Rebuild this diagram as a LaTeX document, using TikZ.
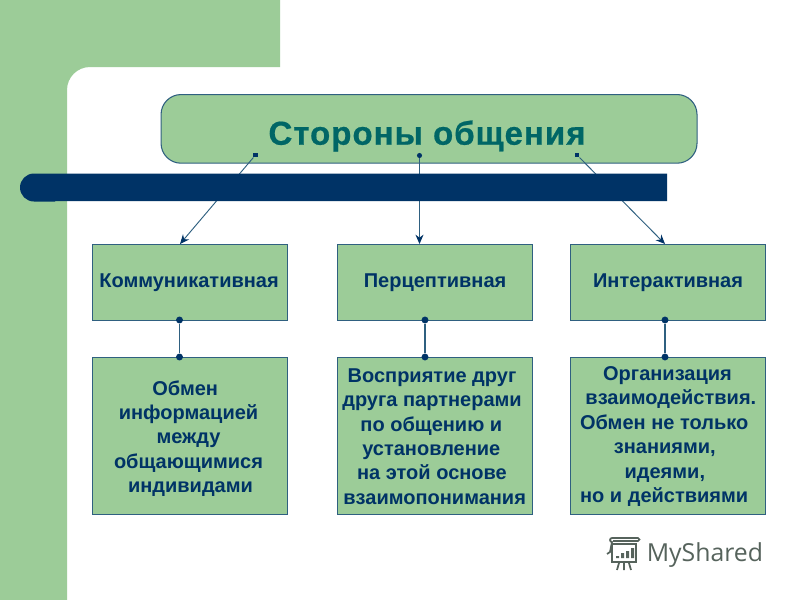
\documentclass[tikz,border=0pt]{standalone}
\usepackage{fontspec}
\setmainfont{Liberation Sans}
\newfontfamily\logofont{Open Sans}
\usetikzlibrary{arrows.meta}
\definecolor{lgreen}{HTML}{9CCC98}
\definecolor{navy}{HTML}{003366}
\definecolor{teal2}{HTML}{006666}
\definecolor{edge}{HTML}{2F6080}
\definecolor{logo}{HTML}{56635C}
\tikzset{
  x=0.75pt,y=-0.75pt,
  box/.style={draw=edge,line width=0.8pt,fill=lgreen,minimum width=146.25pt,inner sep=0pt,anchor=north west,
    text=navy,font=\fontsize{15pt}{18.3pt}\selectfont\bfseries,align=center},
  bodytext/.style={text=navy,font=\fontsize{15pt}{18.3pt}\selectfont\bfseries,align=center,inner sep=0pt},
  dotn/.style={circle,fill=navy,inner sep=0pt,minimum size=5.2pt},
  dots/.style={rectangle,fill=navy,inner sep=0pt,minimum size=3.4pt},
  conn/.style={draw=edge,line width=0.8pt},
  arr/.style={draw=edge,line width=0.7pt,-{Stealth[length=7pt,width=6pt,color=navy]}},
  logoline/.style={draw=logo,line width=1.3pt}
}
\begin{document}
\begin{tikzpicture}
\useasboundingbox (0,0) rectangle (800,600);
\fill[white] (0,0) rectangle (800,600);
% background
\fill[lgreen] (0,0) -- (280,0) -- (280,67) -- (90,67) arc[start angle=270,end angle=180,radius=23] -- (67,600) -- (0,600) -- cycle;
% title
\node[draw=edge,line width=0.8pt,fill=lgreen,rounded corners=15pt,minimum width=402pt,minimum height=51.5pt,inner sep=0pt,anchor=north west] (title) at (160.5,94) {};
\node[text=teal2,inner sep=0pt,font=\fontsize{24.8pt}{28pt}\selectfont\bfseries] (titletext) at (427,136) {\addfontfeature{LetterSpace=3,FakeBold=0.6}Стороны общения};
% boxes
\node[box,minimum height=57pt] (a1) at (92,244) {\hspace*{-1.5pt}Коммуникативная};
\node[box,minimum height=57pt] (a2) at (337,244) {Перцептивная};
\node[box,minimum height=57pt] (a3) at (570,244) {Интерактивная};
\node[box,minimum height=118pt] (b1) at (92,357) {};
\node[box,minimum height=118pt] (b2) at (337,357) {};
\node[box,minimum height=118pt] (b3) at (570,357) {};
\node[bodytext] (t1) at (188.5,438.5) {\hspace*{-5pt}Обмен\\информацией\\между\\общающимися\\\hspace*{3pt}индивидами};
\node[bodytext] (t2) at (434,436.5) {\hspace*{-3pt}Восприятие друг\\\hspace*{-3pt}друга партнерами\\\hspace*{-4pt}по общению и\\\hspace*{-4pt}установление\\\hspace*{-3pt}на этой основе\\\hspace*{1pt}взаимопонимания};
\node[bodytext] (t3) at (667.5,436.5) {Организация\\\hspace*{5pt}взаимодействия.\\\hspace*{-5pt}Обмен не только\\\hspace*{-4pt}знаниями,\\\hspace*{-4pt}идеями,\\\hspace*{-5pt}но и действиями};
% top connectors
\node[dots] (s1) at (255.5,155) {};
\node[dotn,minimum size=3.8pt] (s2) at (419.5,155.5) {};
\node[dots] (s3) at (577,155) {};
\coordinate (e1) at (180,244);
\coordinate (e2) at (419.5,244);
\coordinate (e3) at (665,244);
\draw[arr] (s1) -- (e1);
\draw[arr] (s2) -- (e2);
\draw[arr] (s3) -- (e3);
% bar
\fill[navy] (34,173.5) -- (667,173.5) -- (667,201) -- (55,201) -- (55,201.5) -- (34,201.5) arc[start angle=90,end angle=270,radius=14] -- cycle;
% lower connectors
\node[dotn] (d1) at (179.5,320) {};
\node[dotn] (u1) at (179.5,357) {};
\node[dotn] (d2) at (425,320) {};
\node[dotn] (u2) at (425,357) {};
\node[dotn] (d3) at (665,320) {};
\node[dotn] (u3) at (665,357) {};
\draw[conn] (d1) -- (u1);
\draw[conn] (d2) -- (u2);
\draw[conn] (d3) -- (u3);
% logo
\node[text=logo,font=\logofont\fontsize{18.6pt}{24pt}\selectfont,inner sep=0pt,anchor=west] (logotext) at (646.5,555) {MyShared};
\draw[logoline] (613,541) -- (638,541) arc[start angle=90,end angle=-90,radius=1.5] -- (612,538) arc[start angle=270,end angle=90,radius=2] -- (610,552) -- (607,554);
\draw[logoline] (612,544) rectangle (636,562);
\fill[logo] (616,556) rectangle (619,558) (621,553) rectangle (624,558) (626,551) rectangle (629,558) (631,548) rectangle (634,558);
\draw[logoline] (619,563) -- (617,570) (624,563) -- (624,570) (629,563) -- (631,570);
\end{tikzpicture}
\end{document}
